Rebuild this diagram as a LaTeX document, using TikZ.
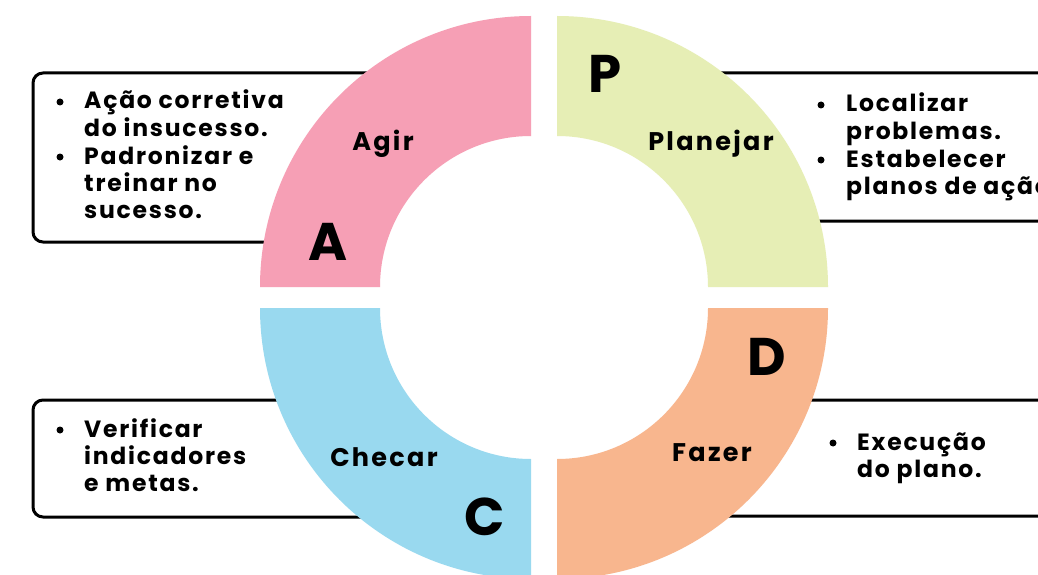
\documentclass[tikz,border=0pt]{standalone}
\usepackage{fontspec}
\usetikzlibrary{calc}
\newfontfamily\popt{Poppins}[LetterSpace=7.5]
\newfontfamily\popl{Poppins}[LetterSpace=9]
\newfontfamily\popbig{Poppins}
\definecolor{qpink}{HTML}{F69FB5}
\definecolor{qgreen}{HTML}{E6EEB5}
\definecolor{qblue}{HTML}{99D9EF}
\definecolor{qorange}{HTML}{F8B68E}
\newcommand\stk[1]{\begin{tabular}[t]{@{}l@{}}#1\end{tabular}}
\tikzset{
  infobox/.style={draw=black, line width=3pt, rounded corners=10pt, fill=white},
  bul/.style={circle, fill=black, inner sep=0pt, minimum size=7pt},
  itemtxt/.style={anchor=base west, inner sep=0pt, font=\popt\bfseries\fontsize{23.5}{27.4}\selectfont},
  lbl/.style={anchor=base, inner sep=0pt, font=\popl\bfseries\fontsize{25.5}{28}\selectfont},
  big/.style={anchor=base, inner sep=0pt, font=\popbig\bfseries\fontsize{53}{60}\selectfont},
}
\begin{document}
\begin{tikzpicture}[x=1pt,y=-1pt]
\useasboundingbox (0,0) rectangle (1038,575);
\clip (0,0) rectangle (1038,575);
\fill[white] (0,0) rectangle (1038,575);
% boxes
\draw[infobox] (33,73) rectangle (378,242);
\draw[infobox] (705,73) rectangle (1080,221);
\draw[infobox] (33,400) rectangle (395,517);
\draw[infobox] (702,400) rectangle (1080,516);
% ring quadrants
\coordinate (ctl) at (531,287);
\coordinate (ctr) at (557,287);
\coordinate (cbl) at (531,308);
\coordinate (cbr) at (557,308);
\fill[qpink] ($(ctl)+(180:271)$) arc[start angle=180,end angle=270,radius=271] -- ($(ctl)+(270:151)$) arc[start angle=270,end angle=180,radius=151] -- cycle;
\fill[qgreen] ($(ctr)+(270:271)$) arc[start angle=270,end angle=360,radius=271] -- ($(ctr)+(0:151)$) arc[start angle=360,end angle=270,radius=151] -- cycle;
\fill[qorange] ($(cbr)+(0:271)$) arc[start angle=0,end angle=90,radius=271] -- ($(cbr)+(90:151)$) arc[start angle=90,end angle=0,radius=151] -- cycle;
\fill[qblue] ($(cbl)+(90:271)$) arc[start angle=90,end angle=180,radius=271] -- ($(cbl)+(180:151)$) arc[start angle=180,end angle=90,radius=151] -- cycle;
% labels
\node[lbl] (agir) at (383,150) {Agir};
\node[lbl] (plan) at (711,150) {Planejar};
\node[lbl] (chec) at (384,466) {Checar};
\node[lbl] (faz) at (712,461) {Fazer};
\node[big] (bA) at (328.5,260) {A};
\node[big] (bP) at (605,93) {P};
\node[big] (bD) at (767,375) {D};
\node[big] (bC) at (485,535) {C};
% bullet texts
\node[bul] (b1) at (60,102) {};
\node[itemtxt] (t1) at (84,109) {\stk{Ação corretiva\\do insucesso.}};
\node[bul] (b2) at (60,157) {};
\node[itemtxt] (t2) at (84,164) {\stk{Padronizar e\\treinar no\\sucesso.}};
\node[bul] (b3) at (821,105) {};
\node[itemtxt] (t3) at (846,112) {\stk{Localizar\\problemas.}};
\node[bul] (b4) at (821,160) {};
\node[itemtxt] (t4) at (846,167) {\stk{Estabelecer\\planos de ação.}};
\node[bul] (b5) at (60,430) {};
\node[itemtxt] (t5) at (84,437) {\stk{Verificar\\indicadores\\e metas.}};
\node[bul] (b6) at (833,443) {};
\node[itemtxt] (t6) at (857,450) {\stk{Execução\\do plano.}};
\end{tikzpicture}
\end{document}
